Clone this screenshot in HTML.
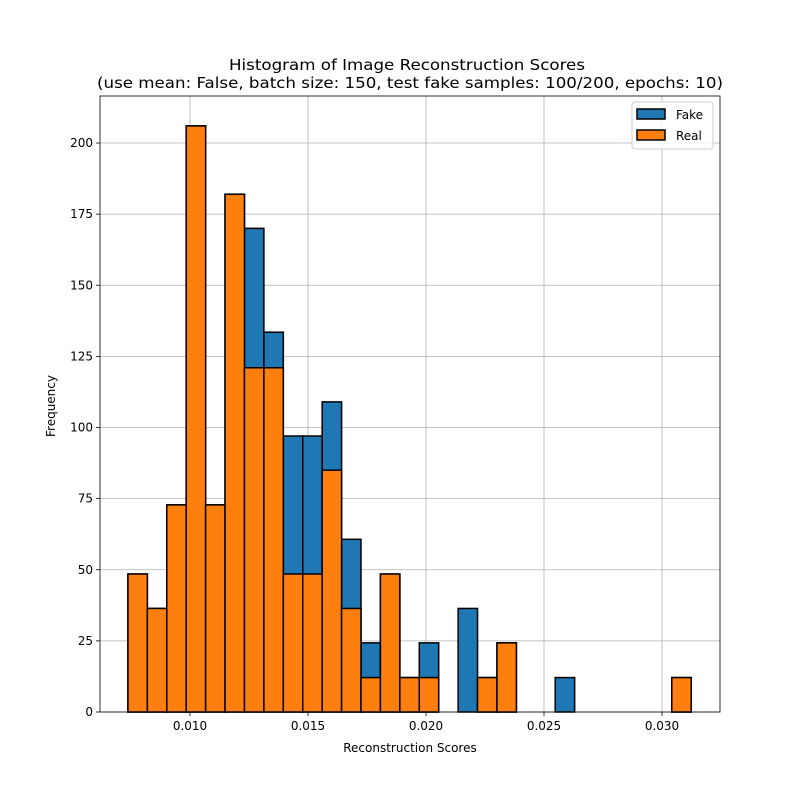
<!DOCTYPE html>
<html><head><meta charset="utf-8"><style>
body{margin:0;background:#fff}
svg text{font-family:"DejaVu Sans","Liberation Sans",sans-serif;fill:#000}
</style></head><body>
<svg id="c" width="800" height="800" xmlns="http://www.w3.org/2000/svg">
<rect width="800" height="800" fill="#fff"/>
<text x="407" y="70" font-size="15" text-anchor="middle" textLength="356" lengthAdjust="spacingAndGlyphs">Histogram of Image Reconstruction Scores</text>
<text x="410" y="88" font-size="15" text-anchor="middle" textLength="626" lengthAdjust="spacingAndGlyphs">(use mean: False, batch size: 150, test fake samples: 100/200, epochs: 10)</text>
<g id="grid"></g>
<g id="bars"></g>
<g id="axes"></g>
<text x="410" y="752" font-size="12" text-anchor="middle">Reconstruction Scores</text>
<text x="0" y="0" font-size="12" text-anchor="middle" transform="translate(55,406) rotate(-90)">Frequency</text>
<g>
<rect x="632" y="102" width="81" height="47" rx="3" fill="#fff" fill-opacity="0.8" stroke="#ccc"/>
<rect x="637" y="109" width="28" height="10" fill="#1f77b4" stroke="#000" stroke-width="1.5"/>
<text x="676" y="119" font-size="12">Fake</text>
<rect x="637" y="130" width="28" height="10" fill="#ff7f0e" stroke="#000" stroke-width="1.5"/>
<text x="676" y="140" font-size="12">Real</text>
</g>
</svg>
<script>
const binStart = 0.00737;
const binWidth = 0.000823;
const fakeValues = [48.5,36.4,72.8,206,72.8,182,170,133.5,97,97,109,60.7,24.3,48.5,12.1,24.3,0,36.4,12.1,24.3,0,0,12.1,0,0,0,0,0,12.1];
const realValues = [48.5,36.4,72.8,206,72.8,182,121,121,48.5,48.5,85,36.4,12.1,48.5,12.1,12.1,0,0,12.1,24.3,0,0,0,0,0,0,0,0,12.1];
const xTicks = [0.010,0.015,0.020,0.025,0.030];
const xTickLabels = ["0.010","0.015","0.020","0.025","0.030"];
const yTicks = [0,25,50,75,100,125,150,175,200];

const L=100,R=720,T=96,B=712;
function xs(v){return 190+(v-0.010)*23600;}
function ys(v){return B-v*(569/200);}
const NS="http://www.w3.org/2000/svg";
function mk(tag,attrs,parent){const e=document.createElementNS(NS,tag);for(const k in attrs)e.setAttribute(k,attrs[k]);parent.appendChild(e);return e;}
const grid=document.getElementById('grid'),bars=document.getElementById('bars'),axes=document.getElementById('axes');
xTicks.forEach((t,i)=>{
  const g=mk('line',{x1:xs(t),x2:xs(t),y1:T,y2:B,stroke:'#b0b0b0','stroke-width':0.8},grid);
  
  
  mk('line',{x1:xs(t),x2:xs(t),y1:B,y2:B+4,stroke:'#000','stroke-width':0.8},axes);
  const tx=mk('text',{x:xs(t),y:B+18,'font-size':12,'text-anchor':'middle'},axes);
  tx.textContent=xTickLabels[i];
  
  
});
yTicks.forEach(t=>{
  const g=mk('line',{x1:L,x2:R,y1:ys(t),y2:ys(t),stroke:'#b0b0b0','stroke-width':0.8},grid);
  
  
  mk('line',{x1:L-4,x2:L,y1:ys(t),y2:ys(t),stroke:'#000','stroke-width':0.8},axes);
  const tx=mk('text',{x:L-7,y:ys(t)+4,'font-size':12,'text-anchor':'end'},axes);
  tx.textContent=String(t);
  
  
});
function drawSeries(vals,color,name){
  vals.forEach((v,i)=>{
    const x0=xs(binStart+i*binWidth),x1=xs(binStart+(i+1)*binWidth);
    const r=mk('rect',{x:x0,y:ys(v),width:x1-x0,height:ys(0)-ys(v),fill:color,stroke:'#000','stroke-width':1.5},bars);
    
    
  });
}
drawSeries(fakeValues,'#1f77b4','bar-fake');
drawSeries(realValues,'#ff7f0e','bar-real');
const fr=mk('rect',{x:L,y:T,width:R-L,height:B-T,fill:'none',stroke:'#000','stroke-width':0.8},axes);


</script>
</body></html>
